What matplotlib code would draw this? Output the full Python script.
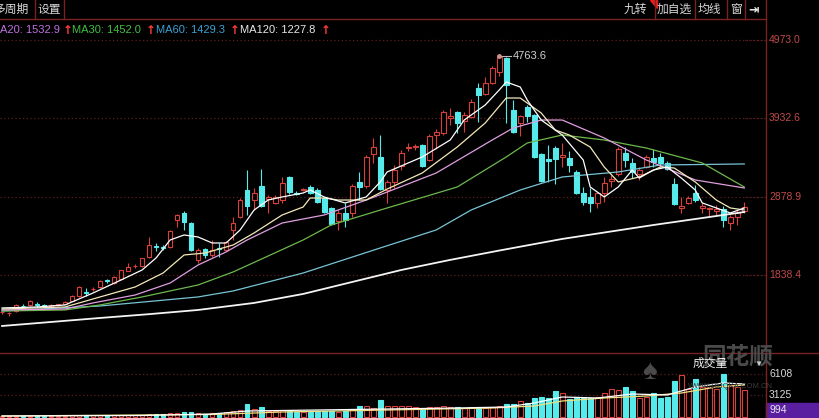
import matplotlib.pyplot as plt
from matplotlib.lines import Line2D
from matplotlib.patches import Rectangle, Polygon

plt.rcParams['font.family'] = ['Liberation Sans', 'Noto Sans CJK SC', 'DejaVu Sans']

W, H = 819, 418

# weekly candles (index 0 = leftmost)
opens = [1335, 1320, 1352, 1425, 1433, 1440, 1420, 1420, 1430, 1450,
         1490, 1553, 1610, 1640, 1673, 1760, 1727, 1780, 1887, 1950,
         1954, 2074, 2215, 2210, 2208, 2568, 2662, 2528, 2034, 2181,
         2101, 2190, 2167, 2435, 2608, 2969, 2835, 3022, 2850, 2796,
         2835, 3143, 2930, 2969, 3009, 2969, 2862, 2728, 2555, 2662,
         2662, 3076, 3022, 3450, 3410, 2969, 3076, 3290, 3530, 3540,
         3570, 3370, 3704, 3731, 3930, 4011, 3891, 3944, 4332, 4252,
         4398, 4545, 4732, 4038, 3864, 4078, 3971, 3450, 3380, 3530,
         3410, 3397, 3210, 2929, 2876, 2796, 2929, 3090, 3183, 3463,
         3330, 3183, 3276, 3397, 3410, 3330, 3049, 2735, 2796, 2929,
         2735, 2710, 2695, 2715, 2528, 2608, 2688]
highs = [1350, 1340, 1440, 1450, 1500, 1470, 1440, 1440, 1450, 1480,
         1560, 1690, 1660, 1670, 1760, 1780, 1815, 1905, 1993, 1975,
         2065, 2341, 2260, 2240, 2430, 2650, 2688, 2540, 2200, 2200,
         2300, 2260, 2290, 2610, 2860, 3236, 3000, 3250, 2900, 2900,
         3143, 3160, 2960, 3000, 3030, 2990, 2880, 2740, 2700, 2796,
         3049, 3210, 3440, 3664, 3700, 3103, 3303, 3500, 3600, 3590,
         3590, 3720, 3780, 4040, 4065, 4030, 4011, 4180, 4398, 4480,
         4620, 4763.6, 4750, 4170, 3971, 4100, 3990, 3460, 3570, 3557,
         3600, 3490, 3230, 3009, 2990, 2940, 3143, 3170, 3540, 3543,
         3397, 3276, 3437, 3517, 3463, 3350, 3130, 2876, 2890, 3036,
         2796, 2742, 2769, 2755, 2635, 2701, 2809]
lows = [1310, 1290, 1340, 1400, 1420, 1400, 1400, 1405, 1415, 1440,
        1480, 1540, 1550, 1620, 1660, 1730, 1715, 1770, 1880, 1930,
        1945, 2060, 2160, 2170, 2200, 2475, 2435, 2150, 2000, 2060,
        2080, 2074, 2150, 2300, 2590, 2635, 2700, 2742, 2660, 2780,
        2796, 2920, 2900, 2950, 2920, 2790, 2660, 2500, 2435, 2475,
        2608, 2835, 3000, 3330, 2969, 2796, 3000, 3236, 3490, 3500,
        3276, 3350, 3520, 3710, 3840, 3730, 3750, 3930, 3880, 4238,
        4380, 4490, 3864, 3730, 3690, 3880, 3400, 3076, 3076, 3049,
        3276, 3210, 2910, 2770, 2675, 2728, 2809, 3009, 3160, 3276,
        3130, 3103, 3263, 3276, 3276, 3230, 2770, 2662, 2780, 2809,
        2662, 2608, 2635, 2475, 2435, 2500, 2662]
closes = [1345, 1325, 1432, 1415, 1486, 1430, 1418, 1425, 1445, 1470,
          1553, 1673, 1593, 1650, 1753, 1750, 1806, 1900, 1940, 1955,
          2060, 2234, 2207, 2200, 2421, 2635, 2541, 2167, 2167, 2101,
          2167, 2175, 2274, 2528, 2835, 2755, 2929, 2755, 2870, 2876,
          3062, 2942, 2920, 2985, 2929, 2809, 2675, 2515, 2662, 2568,
          3022, 3009, 3410, 3543, 2982, 3076, 3236, 3463, 3550, 3560,
          3290, 3690, 3744, 4011, 3960, 3864, 3971, 4145, 4238, 4398,
          4599, 4740, 4372, 3744, 3958, 3958, 3410, 3089, 3360, 3384,
          3430, 3303, 2929, 2809, 2796, 2929, 3062, 3110, 3517, 3370,
          3210, 3236, 3410, 3343, 3330, 3250, 2782, 2750, 2862, 2835,
          2755, 2725, 2710, 2568, 2608, 2662, 2742]
volumes = [150, 120, 180, 140, 200, 150, 130, 120, 150, 160,
           300, 350, 280, 250, 300, 260, 280, 320, 350, 300,
           350, 450, 400, 380, 500, 600, 650, 700, 550, 450,
           500, 600, 650, 900, 1000, 1850, 1100, 1400, 900, 800,
           1000, 900, 750, 700, 750, 800, 850, 900, 750, 800,
           1100, 1560, 1560, 1300, 2400, 1500, 1550, 1600, 1500, 1450,
           1150, 1350, 1400, 1500, 1400, 1450, 1300, 1400, 1450, 1300,
           1400, 1500, 1850, 1850, 2250, 2000, 2700, 2850, 2700, 3700,
           3400, 2550, 2840, 2700, 2700, 2840, 3400, 3950, 3800, 4250,
           3700, 2700, 2840, 3400, 2700, 2840, 5100, 5950, 3950, 5400,
           4250, 4250, 3950, 6100, 4550, 4250, 3800]

# moving average lines
ma5_x = [0, 5, 9, 13, 17, 20, 22, 24, 26, 28, 30, 32, 34, 36, 38, 40, 43, 44, 46, 49,
         52, 54, 55, 60, 64, 66, 69, 71, 72, 74, 75, 77, 80, 83, 84, 86, 88, 90, 91,
         93, 95, 97, 99, 100, 102, 104, 106]
ma5_y = [1393, 1406, 1433, 1593, 1767, 1900, 2061, 2301, 2368, 2341, 2261, 2261, 2435,
         2702, 2835, 2876, 2929, 2969, 2876, 2796, 2876, 3076, 3210, 3410, 3637, 3904,
         4105, 4305, 4412, 4345, 4172, 3904, 3704, 3370, 3009, 2876, 3009, 3236, 3129,
         3236, 3276, 3129, 2969, 2796, 2729, 2662, 2729]
ma10_x = [0, 9, 14, 19, 23, 26, 29, 33, 36, 40, 43, 44, 46, 48, 52, 55, 60, 65, 69, 72,
          74, 77, 79, 81, 84, 86, 88, 91, 94, 96, 99, 102, 104, 106]
ma10_y = [1379, 1406, 1540, 1673, 1860, 2101, 2127, 2234, 2395, 2635, 2742, 2862, 2862,
          2835, 2835, 2982, 3196, 3543, 3864, 4198, 4198, 3998, 3771, 3704, 3543, 3276,
          3076, 3143, 3276, 3263, 3076, 2835, 2729, 2702]
ma20_x = [0, 9, 13, 19, 24, 28, 32, 35, 40, 46, 52, 55, 62, 70, 73, 77, 80, 86, 92, 99, 106]
ma20_y = [1366, 1379, 1460, 1566, 1726, 1967, 2141, 2301, 2528, 2635, 2835, 2942, 3196,
          3637, 3797, 3904, 3904, 3664, 3370, 3103, 2996]
ma30_x = [0, 9, 14, 20, 28, 33, 38, 43, 47, 55, 65, 72, 75, 80, 86, 92, 100, 106]
ma30_y = [1352, 1366, 1433, 1540, 1700, 1874, 2087, 2301, 2501, 2729, 3009, 3410, 3597,
          3704, 3637, 3530, 3330, 3009]
ma60_x = [0, 14, 28, 33, 43, 54, 62, 67, 74, 80, 88, 94, 106]
ma60_y = [1352, 1419, 1540, 1620, 1860, 2194, 2435, 2702, 2969, 3143, 3210, 3303, 3317]
ma120_x = [0, 14, 21, 28, 36, 43, 50, 57, 64, 71, 80, 93, 106]
ma120_y = [1152, 1259, 1310, 1366, 1460, 1580, 1740, 1900, 2035, 2160, 2315, 2501, 2675]

vol_ma1_x = [0, 20, 30, 35, 45, 55, 65, 72, 76, 80, 85, 90, 95, 99, 103, 106]
vol_ma1_y = [142, 213, 426, 852, 994, 1136, 1278, 1420, 1988, 2840, 2698, 3266, 3124,
             4260, 4828, 4686]
vol_ma2_x = [0, 30, 40, 55, 70, 76, 80, 86, 92, 97, 102, 106]
vol_ma2_y = [142, 355, 710, 994, 1278, 1562, 2272, 2698, 2982, 3408, 4260, 4544]

price_ticks = [1838.4, 2878.9, 3932.6, 4973.0]
vol_ticks = [3125, 6108]

RED = '#d8413a'
CYAN = '#57eaea'
GRID = '#5c1e1e'
LINE = '#7a2222'


def fx(x):
    return x / W


def fy(y):
    return 1 - y / H


fig = plt.figure(figsize=(W / 100, H / 100), dpi=100, facecolor='black')
ax = fig.add_axes([0, fy(353), fx(766), (353 - 38) / H], facecolor='black')
axv = fig.add_axes([0, 0, fx(766), 65 / H], facecolor='black')

for a in (ax, axv):
    a.set_xlim(-0.29, 109.1)
    a.set_xticks([])
    a.set_yticks([])
    for s in a.spines.values():
        s.set_visible(False)

ax.set_ylim(791, 5000)
axv.set_ylim(-142, 9088)

for lv in price_ticks:
    ax.axhline(lv, color=GRID, lw=0.9, ls=(0, (1, 2)), zorder=0)
for lv in vol_ticks:
    axv.axhline(lv, color=GRID, lw=0.9, ls=(0, (1, 2)), zorder=0)

# candles
for i in range(len(opens)):
    o, h, l, c = opens[i], highs[i], lows[i], closes[i]
    col = RED if c >= o else CYAN
    ax.vlines(i, l, h, color=col, lw=0.8, zorder=2)
    bot = min(o, c)
    ht = max(abs(c - o), 8)
    face = 'black' if c >= o else CYAN
    ax.bar(i, ht, bottom=bot, width=0.68, facecolor=face, edgecolor=col,
           lw=0.8, zorder=3)
    axv.bar(i, volumes[i], width=0.68, facecolor=face, edgecolor=col, lw=0.8, zorder=2)

ax.plot(ma120_x, ma120_y, color='#f4f4f4', lw=1.3, zorder=4)
ax.plot(ma60_x, ma60_y, color='#78c4d4', lw=0.9, zorder=4)
ax.plot(ma30_x, ma30_y, color='#6cb84c', lw=0.9, zorder=4)
ax.plot(ma20_x, ma20_y, color='#e09ee0', lw=0.9, zorder=4)
ax.plot(ma10_x, ma10_y, color='#f2e8b8', lw=0.9, zorder=4)
ax.plot(ma5_x, ma5_y, color='#ffffff', lw=0.9, zorder=4)

axv.plot(vol_ma2_x, vol_ma2_y, color='#f0e080', lw=0.9, zorder=3)
axv.plot(vol_ma1_x, vol_ma1_y, color='#ffffff', lw=0.9, zorder=3)

# peak marker
ax.plot([71, 72.7], [4763.6, 4763.6], color='#bbbbbb', lw=0.8, zorder=5)
ax.plot(71, 4763.6, 'o', ms=2.5, color='#d09090', zorder=5)
ax.text(72.9, 4763.6, '4763.6', color='#cfcfcf', fontsize=8, va='center', zorder=5)

# price labels on the right
for lv in price_ticks:
    yp = 40 + (4973.0 - lv) / 13.36
    fig.text(fx(769), fy(yp), f'{lv:.1f}', color='#c04a4a', fontsize=7.5, va='center')
    fig.add_artist(Line2D([fx(745), fx(766)], [fy(yp), fy(yp)], color=GRID, lw=0.9,
                          ls=(0, (1, 2))))

fig.text(fx(769), fy(374), '6108', color='#d8d8d8', fontsize=7.5, va='center')
fig.text(fx(769), fy(395), '3125', color='#d8d8d8', fontsize=7.5, va='center')
fig.add_artist(Rectangle((fx(766), 0), fx(53), 15 / H, color='#5a1fa0'))
fig.text(fx(769), fy(410), '994', color='#e8e8e8', fontsize=7.5, va='center')

# frame lines
fig.add_artist(Line2D([fx(766), fx(766)], [0, 1], color=LINE, lw=1))
fig.add_artist(Line2D([0, fx(766)], [fy(19), fy(19)], color=LINE, lw=1))
fig.add_artist(Line2D([0, 1], [fy(353), fy(353)], color=LINE, lw=1))

# toolbar
fig.text(fx(-7), fy(10), '多周期', color='#d8d8d8', fontsize=8.5, va='center')
fig.text(fx(38), fy(10), '设置', color='#d8d8d8', fontsize=8.5, va='center')
for xs in (35, 64, 655, 695, 727, 745):
    fig.add_artist(Line2D([fx(xs), fx(xs)], [fy(0), fy(19)], color=LINE, lw=1))
fig.text(fx(624), fy(10), '九转', color='#d8d8d8', fontsize=8.5, va='center')
fig.text(fx(657), fy(10), '加自选', color='#d8d8d8', fontsize=8.5, va='center')
fig.text(fx(698), fy(10), '均线', color='#d8d8d8', fontsize=8.5, va='center')
fig.text(fx(730), fy(10), '窗', color='#d8d8d8', fontsize=8.5, va='center')
fig.text(fx(748), fy(10), '⇥', color='#e8e8e8', fontsize=9, va='center',
         fontweight='bold')
fig.add_artist(Polygon([(fx(650), fy(0)), (fx(657), fy(0)), (fx(657), fy(8))],
                       closed=True, color='#e02020'))

# moving average header
y_hdr = fy(30)
hdr = [(0, 'A20: 1532.9', '#c070e0'), (72, 'MA30: 1452.0', '#40c040'),
       (156, 'MA60: 1429.3', '#3aa2d2'), (240, 'MA120: 1227.8', '#e8e8e8')]
arrows = [63, 146, 230, 321]
for (xs, txt, col), xa in zip(hdr, arrows):
    fig.text(fx(xs), y_hdr, txt, color=col, fontsize=8, va='center')
    fig.text(fx(xa), y_hdr, '↑', color='#ff3c3c', fontsize=8.5, va='center',
             fontweight='bold', family='DejaVu Sans')

# watermark and volume title
fig.text(fx(650), fy(372), '♠', color='#4a4a4a', fontsize=20, va='center', ha='center')
fig.text(fx(738), fy(357), '同花顺', color='#4a4a4a', fontsize=17, va='center',
         ha='center', fontweight='bold')
fig.text(fx(730), fy(387), 'WWW.10JQKA.COM.CN', color='#3c3c3c', fontsize=5.5,
         va='center', ha='center')
fig.text(fx(693), fy(364), '成交量', color='#eeeeee', fontsize=8.5, va='center')
fig.text(fx(754), fy(364), '▼', color='#cccccc', fontsize=6, va='center')

fig.savefig('out.png', dpi=100, facecolor='black')
